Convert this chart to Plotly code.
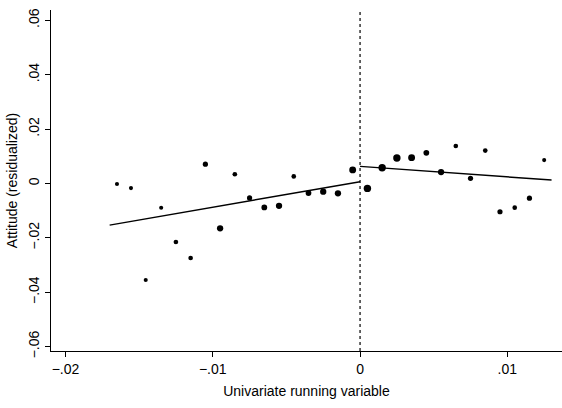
import plotly.graph_objects as go

# Binned means (running variable bin centre, residualized attitude)
bin_x = [-0.0165, -0.01555, -0.01455, -0.0135, -0.0125, -0.0115, -0.0105, -0.0095,
         -0.0085, -0.0075, -0.0065, -0.0055, -0.0045, -0.0035, -0.0025, -0.0015,
         -0.0005, 0.0005, 0.0015, 0.0025, 0.0035, 0.0045, 0.0055, 0.0065,
         0.0075, 0.0085, 0.0095, 0.0105, 0.0115, 0.0125]
bin_y = [-0.0002, -0.0017, -0.0355, -0.0089, -0.0215, -0.0274, 0.0071, -0.0165,
         0.0034, -0.0053, -0.0088, -0.0082, 0.0026, -0.0035, -0.0030, -0.0036,
         0.0050, -0.0018, 0.0058, 0.0094, 0.0095, 0.0113, 0.0042, 0.0138,
         0.0019, 0.0121, -0.0104, -0.0089, -0.0054, 0.0086]
# relative bin weight (observations per bin)
bin_w = [1.0, 1.0, 1.0, 1.0, 1.5, 1.5, 2.0, 3.0,
         1.5, 2.0, 2.5, 3.0, 1.5, 2.5, 3.0, 3.0,
         3.5, 4.0, 4.0, 4.0, 3.5, 2.5, 3.0, 1.5,
         2.0, 1.5, 2.0, 1.5, 2.0, 1.0]

# Linear fits on each side of the cutoff
fit_left_x = [-0.0170, 0.0]
fit_left_y = [-0.0153, 0.00066]
fit_right_x = [0.0, 0.0130]
fit_right_y = [0.0063, 0.00127]

x_ticks = [-0.02, -0.01, 0, 0.01]
x_ticklabels = ["\u2212.02", "\u2212.01", "0", ".01"]
y_ticks = [0.06, 0.04, 0.02, 0, -0.02, -0.04, -0.06]
y_ticklabels = [".06", ".04", ".02", "0", "\u2212.02", "\u2212.04", "\u2212.06"]

fig = go.Figure()
fig.add_trace(go.Scatter(
    x=bin_x, y=bin_y, mode="markers",
    marker=dict(color="black", opacity=1, size=[3 + 1.1 * w for w in bin_w],
                line=dict(width=0)),
    showlegend=False, hoverinfo="skip"))
fig.add_trace(go.Scatter(x=fit_left_x, y=fit_left_y, mode="lines",
                         line=dict(color="black", width=1.4), showlegend=False))
fig.add_trace(go.Scatter(x=fit_right_x, y=fit_right_y, mode="lines",
                         line=dict(color="black", width=1.4), showlegend=False))

fig.add_shape(type="line", xref="x", yref="paper", x0=0, x1=0, y0=0, y1=1,
              line=dict(color="black", width=1.2, dash="3px,3px"))

font = "Liberation Sans, Arial, Helvetica, sans-serif"
fig.update_layout(
    width=562, height=408,
    margin=dict(l=51, r=0, t=10, b=57),
    paper_bgcolor="white", plot_bgcolor="white",
    font=dict(family=font, size=14, color="black"),
    xaxis=dict(
        range=[-0.02098, 0.01371],
        tickvals=x_ticks, ticktext=x_ticklabels,
        ticks="outside", ticklen=5, tickwidth=1, tickcolor="black",
        showline=True, linecolor="black", linewidth=1,
        showgrid=False, zeroline=False,
        title=dict(text="Univariate running variable", standoff=10,
                   font=dict(size=14)),
        tickfont=dict(size=14),
    ),
    yaxis=dict(
        range=[-0.0616, 0.0638],
        tickvals=y_ticks, ticktext=y_ticklabels, tickangle=-90,
        ticks="outside", ticklen=5, tickwidth=1, tickcolor="black",
        showline=True, linecolor="black", linewidth=1,
        showgrid=False, zeroline=False,
        title=dict(text="Attitude (residualized)", standoff=5,
                   font=dict(size=14)),
        tickfont=dict(size=14),
    ),
)

fig.write_html("out.html")
